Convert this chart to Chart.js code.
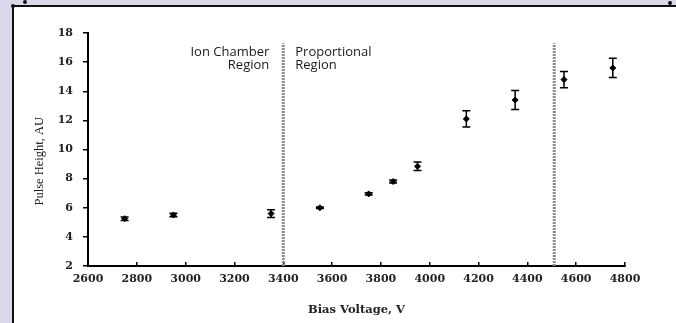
<!DOCTYPE html>
<html>
<head>
<meta charset="utf-8">
<script src="https://cdn.jsdelivr.net/npm/chart.js@4"></script>
<style>
  html, body { margin: 0; padding: 0; }
  body { width: 676px; height: 323px; background: #d9d9eb; position: relative; overflow: hidden; }
  #panel { position: absolute; left: 12px; top: 5px; width: 720px; height: 400px; background: #fff; border-left: 2px solid #111; border-top: 2px solid #111; }
  .dot { position: absolute; width: 4px; height: 4px; border-radius: 2px; background: #111; }
  #chart { position: absolute; left: 0; top: 0; }
</style>
</head>
<body>
<div id="panel"></div>
<div class="dot" style="left:11px;top:4px"></div>
<div class="dot" style="left:23px;top:0px"></div>
<div class="dot" style="left:668px;top:1px"></div>
<canvas id="chart" width="676" height="323"></canvas>
<script>
  "use strict";

  // measured bias voltages (V) and pulse heights (AU) with their error bars
  const voltages = [2750, 2950, 3350, 3550, 3750, 3850, 3950, 4150, 4350, 4550, 4750];
  const pulseHeights = [5.25, 5.5, 5.6, 6.0, 6.95, 7.8, 8.85, 12.1, 13.4, 14.8, 15.6];
  const errors = [0.12, 0.12, 0.27, 0.05, 0.08, 0.1, 0.3, 0.56, 0.66, 0.56, 0.66];

  // region boundaries (dotted vertical lines)
  const regionBounds = [3400, 4510];
  const boundSpan = [2, 17.3];

  const xRange = [2600, 4800];
  const yRange = [2, 18];
  const xStep = 200;
  const yStep = 2;

  const regionLabels = [
    { lines: ["Ion Chamber", "Region"], at: 3400, side: "left" },
    { lines: ["Proportional", "Region"], at: 3400, side: "right" },
  ];

  const TICK_FONT = { family: "DejaVu Serif", size: 11, weight: "bold" };

  const errorBars = {
    id: "errorBars",
    afterDatasetsDraw(chart) {
      const { ctx } = chart;
      const x = chart.scales.x, y = chart.scales.y;
      ctx.save();
      ctx.strokeStyle = "#000";
      ctx.lineWidth = 1.5;
      voltages.forEach((v, i) => {
        const px = x.getPixelForValue(v);
        const top = y.getPixelForValue(pulseHeights[i] + errors[i]);
        const bot = y.getPixelForValue(pulseHeights[i] - errors[i]);
        ctx.beginPath();
        ctx.moveTo(px, top); ctx.lineTo(px, bot);
        ctx.moveTo(px - 4, top); ctx.lineTo(px + 4, top);
        ctx.moveTo(px - 4, bot); ctx.lineTo(px + 4, bot);
        ctx.stroke();
      });
      ctx.restore();
    },
  };

  const regionText = {
    id: "regionText",
    afterDraw(chart) {
      const { ctx } = chart;
      const x = chart.scales.x, y = chart.scales.y;
      ctx.save();
      ctx.font = "13px 'Open Sans'";
      ctx.fillStyle = "#1a1a1a";
      ctx.textBaseline = "middle";
      const y0 = y.getPixelForValue(16.7);
      regionLabels.forEach((r) => {
        const px = x.getPixelForValue(r.at);
        ctx.textAlign = r.side === "left" ? "right" : "left";
        const tx = r.side === "left" ? px - 14 : px + 12;
        r.lines.forEach((t, k) => ctx.fillText(t, tx, y0 + k * 13.5));
      });
      ctx.restore();
    },
  };

  // y axis title, drawn a little below the middle of the axis as in the source
  const yTitle = {
    id: "yTitle",
    afterDraw(chart) {
      const { ctx } = chart;
      const y = chart.scales.y;
      ctx.save();
      ctx.translate(40, y.getPixelForValue(yRange[0] + (yRange[1] - yRange[0]) * 0.45));
      ctx.rotate(-Math.PI / 2);
      ctx.font = "12.5px 'Liberation Serif'";
      ctx.fillStyle = "#222";
      ctx.textAlign = "center";
      ctx.textBaseline = "middle";
      ctx.fillText("Pulse Height, AU", 0, 0);
      ctx.restore();
    },
  };

  const boundaryDatasets = regionBounds.map((b) => ({
    type: "line",
    data: [{ x: b, y: boundSpan[0] }, { x: b, y: boundSpan[1] }],
    borderColor: "#8c8c8c",
    borderWidth: 3,
    borderDash: [2, 1],
    pointRadius: 0,
    fill: false,
  }));

  new Chart(document.getElementById("chart"), {
    type: "scatter",
    data: {
      datasets: [
        ...boundaryDatasets,
        {
          data: voltages.map((v, i) => ({ x: v, y: pulseHeights[i] })),
          backgroundColor: "#000",
          borderColor: "#000",
          pointStyle: "rectRot",
          pointRadius: 3,
          pointHoverRadius: 3,
        },
      ],
    },
    plugins: [errorBars, regionText, yTitle],
    options: {
      responsive: false,
      animation: false,
      devicePixelRatio: 1,
      layout: { padding: { left: 0, top: 33, right: 51, bottom: 0 } },
      plugins: { legend: { display: false }, tooltip: { enabled: false } },
      scales: {
        x: {
          type: "linear",
          min: xRange[0],
          max: xRange[1],
          ticks: { stepSize: xStep, color: "#222", font: TICK_FONT, padding: 11, maxRotation: 0, callback: (v) => String(v) },
          grid: { display: true, drawOnChartArea: false, drawTicks: true, tickLength: -4, color: "#000", lineWidth: 1.5 },
          border: { color: "#000", width: 2 },
          title: {
            display: true,
            text: "Bias Voltage, V",
            color: "#222",
            font: { family: "DejaVu Serif", size: 11.5, weight: "bold" },
            padding: { top: 0, bottom: 6 },
          },
          afterFit(scale) { scale.height = 57; },
        },
        y: {
          type: "linear",
          min: yRange[0],
          max: yRange[1],
          ticks: { stepSize: yStep, color: "#222", font: TICK_FONT, padding: 10, callback: (v) => String(v) },
          grid: { display: true, drawOnChartArea: false, drawTicks: true, tickLength: 5, color: "#000", lineWidth: 1.5 },
          border: { color: "#000", width: 2 },
          title: { display: false },
          afterFit(scale) { scale.width = 88; },
        },
      },
    },
  });
</script>
</body>
</html>
